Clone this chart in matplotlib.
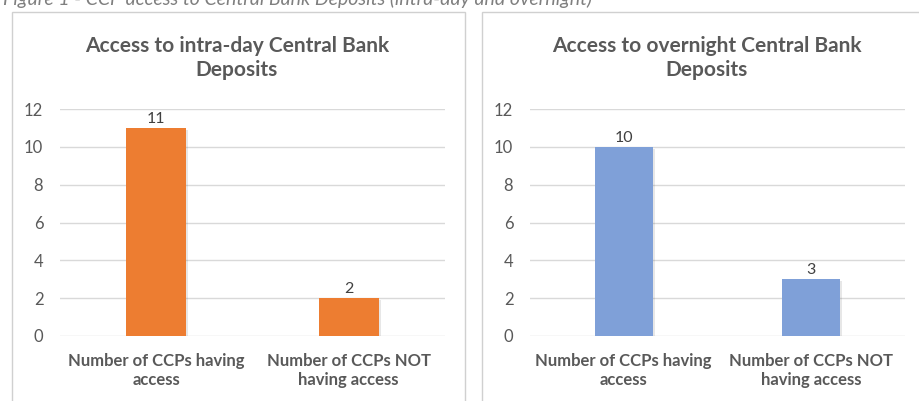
import matplotlib
matplotlib.use("Agg")
import matplotlib.pyplot as plt
import matplotlib.patheffects as pe
from matplotlib.patches import Rectangle

categories = ["Number of CCPs having\naccess", "Number of CCPs NOT\nhaving access"]
intraday_values = [11, 2]
overnight_values = [10, 3]
titles = ["Access to intra-day Central Bank\nDeposits", "Access to overnight Central Bank\nDeposits"]
caption = "Figure 1 - CCP access to Central Bank Deposits (intra-day and overnight)"
yticks = [0, 2, 4, 6, 8, 10, 12]

plt.rcParams['font.family'] = ['Lato', 'DejaVu Sans']
W, H = 920, 401
fig = plt.figure(figsize=(W / 100, H / 100), dpi=100)
fig.patch.set_facecolor('white')

def fx(px):
    return px / W

def fy(py):
    return 1 - py / H

text_col = '#595959'
grid_col = '#D9D9D9'

# chart boxes
for (x0, x1) in [(12, 465), (482, 940)]:
    fig.add_artist(Rectangle((fx(x0), fy(420)), fx(x1) - fx(x0), fy(12) - fy(420),
                             transform=fig.transFigure, facecolor='white',
                             edgecolor='#D0D0D0', linewidth=1.0, zorder=0))

fig.text(fx(3), fy(5), caption, ha='left', va='baseline', fontsize=14,
         style='italic', color='#7F7F7F')

panels = [
    (60, 445, intraday_values, '#ED7D31', titles[0], 237),
    (530, 905, overnight_values, '#7FA0D8', titles[1], 707),
]

for (ax0, ax1, vals, col, title, tcx) in panels:
    ax = fig.add_axes([fx(ax0), fy(336), fx(ax1) - fx(ax0), fy(109) - fy(336)])
    ax.set_facecolor('none')
    x = list(range(len(categories)))
    bars = ax.bar(x, vals, width=0.31, color=col, zorder=3)
    for b in bars:
        b.set_path_effects([pe.SimplePatchShadow(offset=(1.5, -1.5), alpha=0.12, shadow_rgbFace='#404040'),
                            pe.Normal()])
    for xi, v in zip(x, vals):
        ax.text(xi, v + 0.12, str(v), ha='center', va='bottom', fontsize=11.5, color='#404040')
    ax.set_ylim(0, 12)
    ax.set_xlim(-0.5, 1.5)
    ax.set_yticks(yticks)
    ax.yaxis.grid(True, color=grid_col, linewidth=1.0, zorder=0)
    ax.set_axisbelow(True)
    for s in ax.spines.values():
        s.set_visible(False)
    ax.tick_params(axis='y', length=0, pad=12, labelsize=12, labelcolor=text_col)
    ax.tick_params(axis='x', length=0, pad=12)
    ax.set_xticks(x)
    ax.set_xticklabels(categories, fontsize=12, fontweight='bold', color=text_col, linespacing=1.25)
    fig.text(fx(tcx), fy(58), title, ha='center', va='center', fontsize=15,
             fontweight='bold', color=text_col, linespacing=1.3)

fig.savefig('out.png', dpi=100, facecolor='white')
